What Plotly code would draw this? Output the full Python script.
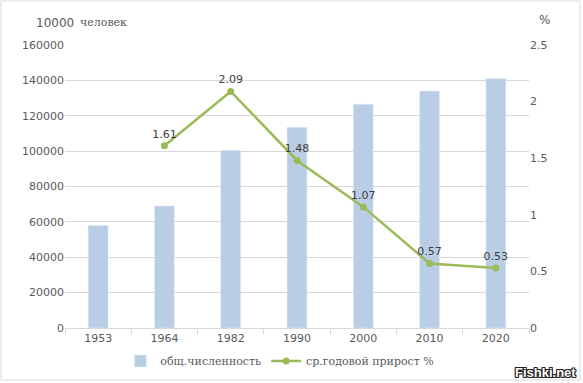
import plotly.graph_objects as go

years = ["1953", "1964", "1982", "1990", "2000", "2010", "2020"]
population = [58000, 69000, 100500, 113500, 126500, 134000, 141000]
growth = [None, 1.61, 2.09, 1.48, 1.07, 0.57, 0.53]
growth_labels = ["", "1.61", "2.09", "1.48", "1.07", "0.57", "0.53"]
left_ticks = [0, 20000, 40000, 60000, 80000, 100000, 120000, 140000, 160000]
right_ticks = [0, 0.5, 1, 1.5, 2, 2.5]

W, H = 583, 383
L, R, T, B = 65, 54, 45, 55
pw, ph = W - L - R, H - T - B


def px(x, y):
    return (x - L) / pw, (H - B - y) / ph


fig = go.Figure()
fig.add_trace(go.Bar(
    x=years, y=population, name="общ.численность",
    marker=dict(color="#b9cde5"), width=0.3, yaxis="y",
))
fig.add_trace(go.Scatter(
    x=years, y=growth, name="ср.годовой прирост %",
    mode="lines+markers+text", text=growth_labels, textposition="top center",
    textfont=dict(family="DejaVu Sans", size=11, color="#404040"),
    line=dict(color="#9bbb59", width=2.5), marker=dict(color="#9bbb59", size=7),
    yaxis="y2", cliponaxis=False,
))

anns = []


def ann(text, x, y, family, size, color, xanchor="left", shadow=None):
    ax, ay = px(x, y)
    f = dict(family=family, size=size, color=color)
    if shadow:
        f["shadow"] = shadow
    anns.append(dict(text=text, x=ax, y=ay, xref="paper", yref="paper", showarrow=False,
                     font=f, xanchor=xanchor, yanchor="middle"))


ann("10000", 34, 23, "DejaVu Sans", 12, "#595959")
ann("человек", 78, 23, "DejaVu Serif", 11, "#595959")
ann("%", 544, 20, "DejaVu Sans", 12, "#595959", "center")
ann("<b>Fishki.net</b>", 578, 372, "Liberation Sans", 13, "#ffffff", "right",
    shadow="1px 0 0 #222, -1px 0 0 #222, 0 1px 0 #222, 0 -1px 0 #222, 1px 1px 0 #222, -1px -1px 0 #222, 1px -1px 0 #222, -1px 1px 0 #222")

x0, y0 = px(1, 380)
x1, y1 = px(580, 1)

fig.update_layout(
    width=W, height=H,
    margin=dict(l=L, r=R, t=T, b=B, autoexpand=False),
    paper_bgcolor="white", plot_bgcolor="white",
    font=dict(family="DejaVu Sans", size=11, color="#595959"),
    showlegend=True,
    legend=dict(orientation="h", x=0.48, xref="container", xanchor="center",
                y=(H - 361) / H, yref="container", yanchor="middle",
                font=dict(family="DejaVu Serif", size=11, color="#595959")),
    xaxis=dict(type="category", showgrid=False, showline=True, linecolor="#d9d9d9",
               ticks="outside", tickson="boundaries", ticklen=5, tickcolor="#d9d9d9",
               tickfont=dict(size=11, color="#595959")),
    yaxis=dict(range=[0, 160000], tickvals=left_ticks, showgrid=True,
               gridcolor="#d9d9d9", zeroline=False, showline=False,
               tickformat="d", tickfont=dict(size=11, color="#595959")),
    yaxis2=dict(range=[0, 2.5], tickvals=right_ticks, overlaying="y", side="right",
                showgrid=False, zeroline=False, showline=False,
                tickfont=dict(size=11, color="#595959")),
    annotations=anns,
    shapes=[dict(type="rect", xref="paper", yref="paper", x0=x0, x1=x1, y0=y0, y1=y1,
                 line=dict(color="#d9d9d9", width=1))],
)

fig.write_html("out.html", config={"displayModeBar": False},
               post_script="document.body.style.margin='0';")
